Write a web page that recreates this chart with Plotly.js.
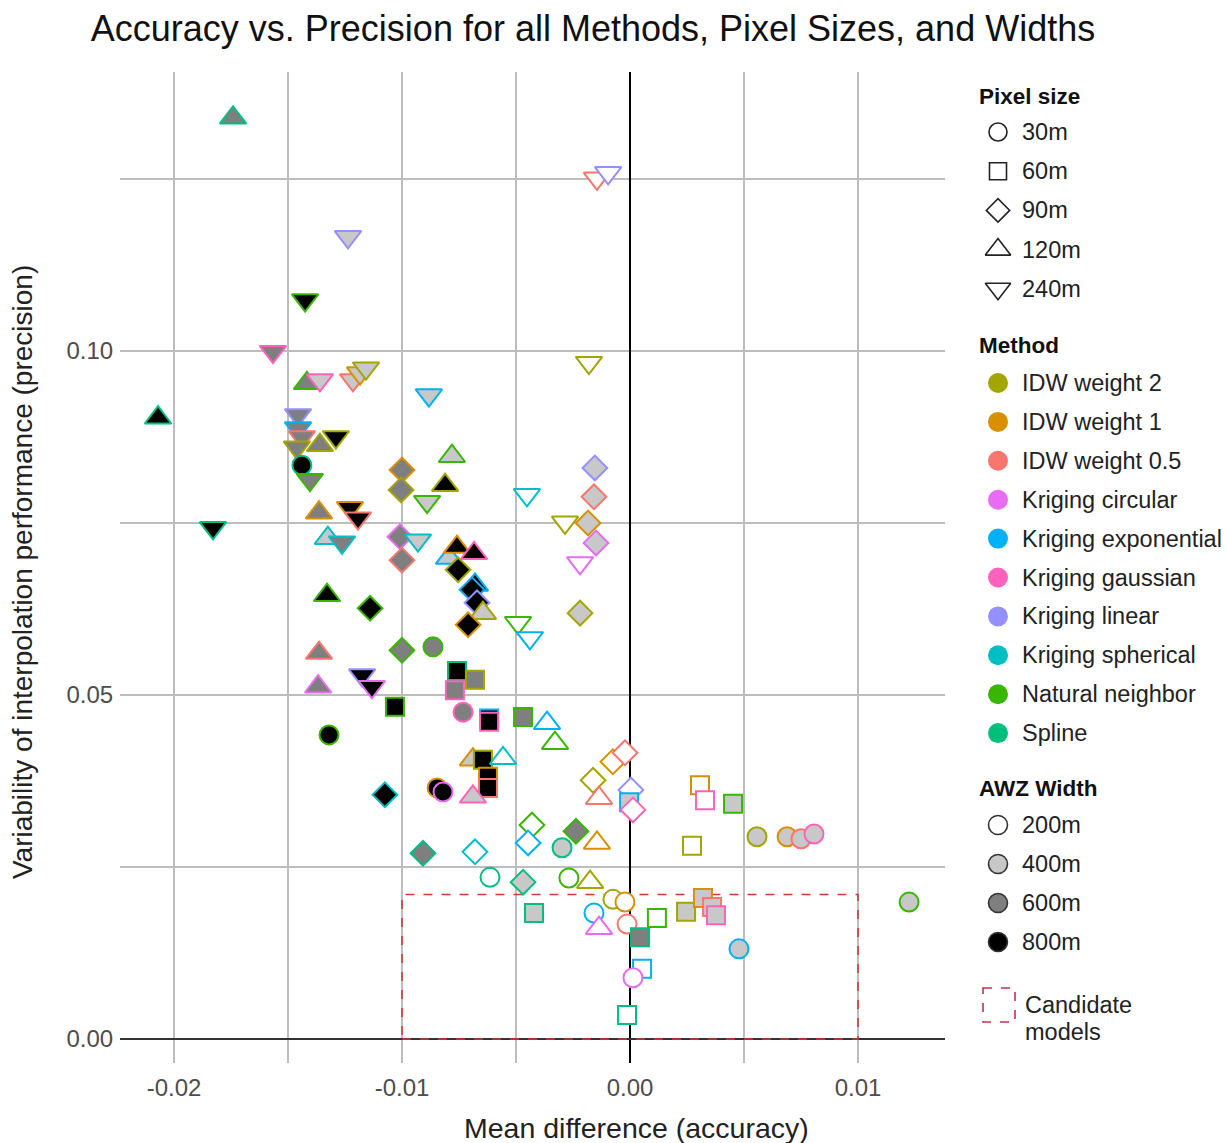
<!DOCTYPE html>
<html>
<head>
<meta charset="utf-8">
<script src="https://cdn.plot.ly/plotly-3.0.1.min.js"></script>
<style>html,body{margin:0;padding:0;background:#fff;}#chart{width:1226px;height:1143px;}</style>
</head>
<body>
<div id="chart"></div>
<script>
// ---------------- data ----------------
const meanDiff = [
 -0.01741,-0.00145,-0.00096,-0.01237,-0.01425,-0.01566,-0.0207,-0.01829,-0.01417,-0.0136,
 -0.01215,-0.01184,-0.01158,-0.01456,-0.01456,-0.01439,-0.01461,-0.0136,-0.0129,-0.01439,
 -0.01404,-0.01364,-0.01228,-0.01193,-0.01325,-0.01263,-0.01329,-0.0114,-0.01364,-0.01368,
 -0.01175,-0.01132,-0.0132,-0.01075,-0.01031,-0.00882,-0.00781,-0.0100,-0.01004,-0.00811,
 -0.0089,-0.00452,-0.0018,-0.00154,-0.00158,-0.00285,-0.00184,-0.00149,-0.00219,-0.01009,
 -0.0093,-0.0100,-0.00794,-0.00759,-0.00684,-0.00754,-0.0068,-0.00693,-0.00671,-0.00645,
 -0.0071,-0.00491,-0.00439,-0.00219,-0.0100,-0.00864,-0.00759,-0.0068,-0.00768,-0.00732,
 -0.00618,-0.00618,-0.00469,-0.00364,-0.00329,-0.00689,-0.00645,-0.00557,-0.00623,-0.00623,
 -0.00846,-0.0082,-0.00689,-0.00075,-0.00022,-0.00162,-0.00136,0.00004,-0.00004,0.00013,
 -0.0043,-0.00447,-0.00237,-0.00298,-0.00145,-0.00908,-0.0068,-0.00614,-0.00469,-0.00268,
 -0.00175,-0.00075,-0.00022,-0.00421,-0.00158,-0.00136,-0.00013,0.00118,0.00044,0.00053,
 0.00013,-0.00013,0.00307,0.00329,0.00452,0.00272,0.00557,0.00689,0.0075,0.00807,
 0.00246,0.0032,0.0036,0.00377,0.00478,0.01224
];
const precision = [
 0.1339,0.1251,0.1259,0.1166,0.1074,0.0999,0.0903,0.0743,0.0953,0.0958,
 0.0958,0.0968,0.0975,0.0907,0.0888,0.0875,0.0860,0.0863,0.0875,0.0834,
 0.0813,0.0765,0.0772,0.0757,0.0728,0.0722,0.0645,0.0626,0.0561,0.0512,
 0.0529,0.0512,0.0442,0.0355,0.0483,0.0936,0.0847,0.0827,0.0798,0.0805,
 0.0781,0.0791,0.0983,0.0830,0.0788,0.0751,0.0750,0.0721,0.0692,0.0730,
 0.0725,0.0696,0.0699,0.0715,0.0706,0.0682,0.0660,0.0653,0.0634,0.0619,
 0.0602,0.0605,0.0583,0.0619,0.0565,0.0570,0.0535,0.0522,0.0507,0.0475,
 0.0466,0.0461,0.0468,0.0459,0.0430,0.0406,0.0406,0.0408,0.0381,0.0365,
 0.0365,0.0359,0.0352,0.0403,0.0416,0.0376,0.0350,0.0362,0.0344,0.0333,
 0.0311,0.0285,0.0302,0.0278,0.0285,0.0270,0.0272,0.0235,0.0228,0.0234,
 0.0228,0.0203,0.0199,0.0183,0.0183,0.0161,0.0167,0.0176,0.0148,0.0102,
 0.0089,0.0035,0.0369,0.0347,0.0342,0.0281,0.0294,0.0294,0.0291,0.0298,
 0.0185,0.0205,0.0192,0.0180,0.0131,0.0199
];
const pixelSize = [
 '120m','240m','240m','240m','240m','240m','120m','240m','120m','240m',
 '240m','240m','240m','240m','240m','240m','240m','120m','240m','30m',
 '240m','120m','240m','240m','120m','240m','120m','90m','120m','120m',
 '240m','240m','30m','90m','60m','240m','120m','90m','90m','120m',
 '240m','240m','240m','90m','90m','240m','90m','90m','240m','90m',
 '240m','90m','120m','120m','120m','90m','120m','90m','90m','120m',
 '90m','240m','240m','90m','90m','30m','60m','60m','60m','30m',
 '60m','60m','60m','120m','120m','120m','60m','120m','60m','60m',
 '30m','30m','120m','90m','90m','90m','120m','90m','60m','90m',
 '90m','90m','90m','30m','120m','90m','90m','30m','90m','30m',
 '120m','30m','30m','60m','30m','120m','30m','60m','60m','60m',
 '30m','60m','60m','60m','60m','60m','30m','30m','30m','30m',
 '60m','60m','60m','60m','30m','30m'
];
const method = [
 'Spline','IDW weight 0.5','Kriging linear','Kriging linear','Natural neighbor','Kriging gaussian','Spline','Spline','Natural neighbor','Kriging gaussian',
 'IDW weight 0.5','IDW weight 1','IDW weight 2','Kriging linear','Kriging exponential','IDW weight 0.5','IDW weight 2','IDW weight 2','IDW weight 2','Spline',
 'Natural neighbor','IDW weight 1','IDW weight 1','IDW weight 0.5','Kriging spherical','Kriging spherical','Natural neighbor','Natural neighbor','IDW weight 0.5','Kriging circular',
 'Kriging linear','Kriging circular','Natural neighbor','Kriging spherical','Natural neighbor','Kriging exponential','Natural neighbor','IDW weight 1','IDW weight 2','IDW weight 2',
 'Natural neighbor','Kriging spherical','IDW weight 2','Kriging linear','IDW weight 0.5','IDW weight 2','IDW weight 1','Kriging circular','Kriging circular','Kriging circular',
 'Kriging spherical','IDW weight 0.5','Kriging exponential','IDW weight 1','Kriging gaussian','IDW weight 2','Kriging exponential','Kriging exponential','Kriging linear','IDW weight 2',
 'IDW weight 1','Natural neighbor','Kriging exponential','IDW weight 2','Natural neighbor','Natural neighbor','Spline','IDW weight 2','Kriging gaussian','Kriging gaussian',
 'Kriging exponential','Kriging gaussian','Natural neighbor','Kriging exponential','Natural neighbor','IDW weight 1','IDW weight 2','Kriging spherical','IDW weight 1','IDW weight 0.5',
 'IDW weight 1','Kriging circular','Kriging gaussian','IDW weight 1','IDW weight 0.5','IDW weight 2','IDW weight 0.5','Kriging linear','Kriging exponential','Kriging gaussian',
 'Natural neighbor','Kriging exponential','Natural neighbor','Spline','IDW weight 1','Spline','Kriging spherical','Spline','Spline','Natural neighbor',
 'IDW weight 2','IDW weight 2','IDW weight 1','Spline','Kriging exponential','Kriging circular','IDW weight 0.5','Natural neighbor','Spline','Kriging exponential',
 'Kriging circular','Spline','IDW weight 1','Kriging gaussian','Natural neighbor','IDW weight 2','IDW weight 2','IDW weight 1','IDW weight 0.5','Kriging gaussian',
 'IDW weight 2','IDW weight 1','IDW weight 0.5','Kriging gaussian','Kriging exponential','Natural neighbor'
];
const awzWidth = [
 '600m','200m','200m','400m','800m','600m','800m','800m','600m','400m',
 '400m','400m','400m','600m','600m','600m','600m','600m','800m','800m',
 '600m','600m','800m','800m','400m','600m','800m','800m','600m','600m',
 '800m','800m','800m','800m','800m','400m','400m','600m','600m','800m',
 '400m','200m','200m','400m','400m','200m','400m','400m','200m','600m',
 '400m','600m','400m','800m','800m','800m','800m','800m','800m','400m',
 '800m','200m','200m','400m','600m','600m','800m','600m','600m','600m',
 '800m','800m','600m','200m','200m','400m','800m','200m','800m','800m',
 '800m','800m','400m','200m','200m','200m','200m','200m','400m','200m',
 '200m','200m','600m','400m','200m','600m','200m','200m','400m','200m',
 '200m','200m','200m','400m','200m','200m','200m','200m','600m','200m',
 '200m','200m','200m','200m','400m','200m','400m','400m','400m','400m',
 '400m','400m','400m','400m','400m','400m'
];

// legend categories
const pixelLevels = ['30m','60m','90m','120m','240m'];
const methodLevels = ['IDW weight 2','IDW weight 1','IDW weight 0.5','Kriging circular','Kriging exponential',
  'Kriging gaussian','Kriging linear','Kriging spherical','Natural neighbor','Spline'];
const widthLevels = ['200m','400m','600m','800m'];

// ---------------- styles ----------------
const symbolOf = {'30m':'circle','60m':'square','90m':'diamond','120m':'triangle-up','240m':'triangle-down'};
const sizeOf = {'30m':19,'60m':18,'90m':19,'120m':23,'240m':23};
const methodColor = {'IDW weight 2':'#A3A500','IDW weight 1':'#D89000','IDW weight 0.5':'#F8766D',
  'Kriging circular':'#E76BF3','Kriging exponential':'#00B0F6','Kriging gaussian':'#FF62BC',
  'Kriging linear':'#9590FF','Kriging spherical':'#00BFC4','Natural neighbor':'#39B600','Spline':'#00BF7D'};
const widthFill = {'200m':'#FFFFFF','400m':'#C8C8C8','600m':'#7F7F7F','800m':'#000000'};

const W = 1226, H = 1143;
const PL = 120, PR = 945, PT = 72, PB = 1063;
const FONT = '"Liberation Sans", Arial, Helvetica, sans-serif';
const LEGFS = 23.5;

const dataTrace = {
  type:'scatter', mode:'markers', x: meanDiff, y: precision, xaxis:'x', yaxis:'y',
  hoverinfo:'x+y',
  marker:{
    symbol: pixelSize.map(p => symbolOf[p]),
    size: pixelSize.map(p => sizeOf[p]),
    color: awzWidth.map(w => widthFill[w]),
    opacity: 1,
    line:{ color: method.map(m => methodColor[m]), width: 2 }
  },
  showlegend:false
};

// ---------------- hand-built legend (pixel coordinate overlay axes) ----------------
const LX = 998, TX = 1020, HX = 977;
const legX = [], legY = [], legSym = [], legSize = [], legFill = [], legLine = [], legLW = [];
const ann = [];
function head(text, y){ ann.push({xref:'x2', yref:'y2', x:HX, y:y, text:'<b>'+text+'</b>', showarrow:false,
  xanchor:'left', yanchor:'middle', font:{family:FONT, size:LEGFS-1, color:'#111'}}); }
function item(text, y){ ann.push({xref:'x2', yref:'y2', x:TX, y:y, text:text, showarrow:false,
  xanchor:'left', yanchor:'middle', font:{family:FONT, size:LEGFS, color:'#222'}}); }

head('Pixel size', 96);
pixelLevels.forEach((p,i) => {
  const y = 132 + i*39.2;
  legX.push(LX); legY.push(y); legSym.push(symbolOf[p]); legSize.push(sizeOf[p]-1);
  legFill.push('#FFFFFF'); legLine.push('#222222'); legLW.push(1.6);
  item(p, y);
});
head('Method', 345);
methodLevels.forEach((m,i) => {
  const y = 383 + i*38.9;
  legX.push(LX); legY.push(y); legSym.push('circle'); legSize.push(20);
  legFill.push(methodColor[m]); legLine.push(methodColor[m]); legLW.push(0);
  item(m, y);
});
head('AWZ Width', 788);
widthLevels.forEach((w,i) => {
  const y = 825 + i*39;
  legX.push(LX); legY.push(y); legSym.push('circle'); legSize.push(19);
  legFill.push(widthFill[w]); legLine.push('#333333'); legLW.push(1.6);
  item(w, y);
});
ann.push({xref:'x2', yref:'y2', x:1023, y:1005, text:'Candidate', showarrow:false, xanchor:'left', yanchor:'middle',
  font:{family:FONT, size:LEGFS, color:'#222'}});
ann.push({xref:'x2', yref:'y2', x:1023, y:1032, text:'models', showarrow:false, xanchor:'left', yanchor:'middle',
  font:{family:FONT, size:LEGFS, color:'#222'}});

const legendTrace = {
  type:'scatter', mode:'markers', x: legX, y: legY, xaxis:'x2', yaxis:'y2', hoverinfo:'skip', showlegend:false,
  marker:{ symbol: legSym, size: legSize, color: legFill, opacity: 1, line:{ color: legLine, width: legLW } }
};

// axis titles
ann.push({xref:'paper', yref:'paper', x:636/W, y:1-1128/H, text:'Mean difference (accuracy)', showarrow:false,
  xanchor:'center', yanchor:'middle', font:{family:FONT, size:28.5, color:'#222'}});
ann.push({xref:'paper', yref:'paper', x:22/W, y:1-572/H, text:'Variability of interpolation performance (precision)', showarrow:false,
  textangle:-90, xanchor:'center', yanchor:'middle', font:{family:FONT, size:28, color:'#222'}});

const xTickVals = [-0.02,-0.015,-0.01,-0.005,0,0.005,0.01];
const xTickText = ['-0.02','','-0.01','','0.00','','0.01'];
const yTickVals = [0,0.025,0.05,0.075,0.1,0.125];
const yTickText = ['0.00','','0.05','','0.10',''];

const layout = {
  width: W, height: H,
  margin:{l:0, r:0, t:0, b:0, pad:0},
  paper_bgcolor:'#FFFFFF', plot_bgcolor:'rgba(0,0,0,0)',
  font:{family:FONT, color:'#222'},
  title:{ text:'Accuracy vs. Precision for all Methods, Pixel Sizes, and Widths',
    x: 593/W, y: 1-28/H, xanchor:'center', yanchor:'middle', xref:'paper', yref:'paper',
    font:{family:FONT, size:36, color:'#111'} },
  xaxis:{ domain:[PL/W, PR/W], range:[(PL-630)/22800, (PR-630)/22800], anchor:'y',
    tickmode:'array', tickvals:xTickVals, ticktext:xTickText,
    showgrid:true, gridcolor:'#BDBDBD', gridwidth:1.3,
    zeroline:true, zerolinecolor:'#000000', zerolinewidth:1.5,
    showline:false, ticks:'outside', ticklen:3, tickcolor:'rgba(0,0,0,0)',
    tickfont:{family:FONT, size:24, color:'#4D4D4D'}, fixedrange:true },
  yaxis:{ domain:[1-PB/H, 1-PT/H], range:[(1039-PB)/6880, (1039-PT)/6880], anchor:'x',
    tickmode:'array', tickvals:yTickVals, ticktext:yTickText,
    showgrid:true, gridcolor:'#BDBDBD', gridwidth:1.3,
    zeroline:true, zerolinecolor:'#333333', zerolinewidth:2.2,
    showline:false, ticks:'outside', ticklen:1, tickcolor:'rgba(0,0,0,0)',
    tickfont:{family:FONT, size:24, color:'#4D4D4D'}, fixedrange:true },
  xaxis2:{ domain:[0,1], range:[0,W], anchor:'y2', visible:false, fixedrange:true },
  yaxis2:{ domain:[0,1], range:[H,0], anchor:'x2', visible:false, fixedrange:true },
  shapes:[
    { type:'rect', xref:'x', yref:'y', x0:-0.01, x1:0.01, y0:0, y1:0.021, layer:'between',
      line:{color:'#D03A3A', width:1.6, dash:'dash'}, fillcolor:'rgba(0,0,0,0)' },
    { type:'rect', xref:'x2', yref:'y2', x0:983, x1:1015, y0:988, y1:1022,
      line:{color:'#C43050', width:1.6, dash:'dash'}, fillcolor:'rgba(0,0,0,0)' }
  ],
  annotations: ann,
  showlegend:false
};

Plotly.newPlot('chart', [dataTrace, legendTrace], layout, {displayModeBar:false, staticPlot:true});
</script>
</body>
</html>
